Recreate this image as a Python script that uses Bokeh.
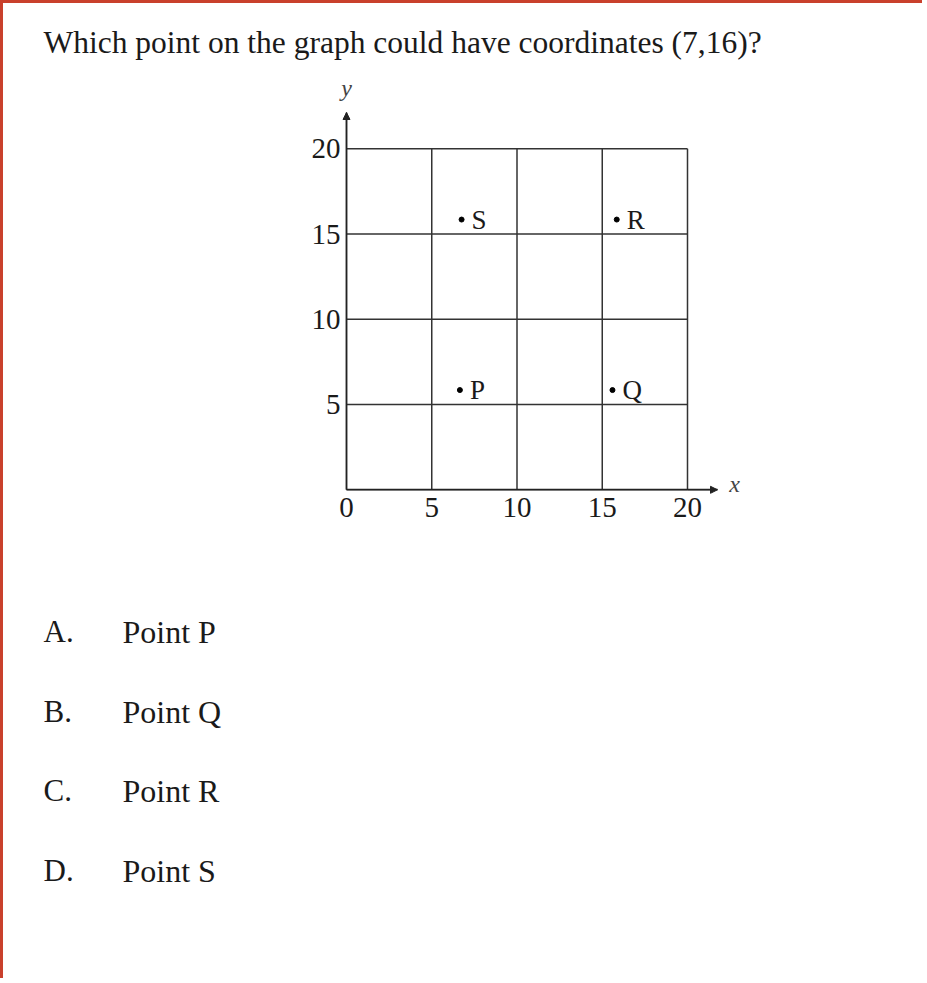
from bokeh.plotting import figure
from bokeh.models import Range1d, FixedTicker, Label, Arrow, NormalHead
from bokeh.core.properties import value
from bokeh.embed import file_html
from bokeh.resources import INLINE

# ---- data ----
question = "Which point on the graph could have coordinates (7,16)?"
answer_letters = ["A.", "B.", "C.", "D."]
answer_texts = ["Point P", "Point Q", "Point R", "Point S"]
point_names = ["S", "R", "P", "Q"]
point_x = [6.75, 15.85, 6.65, 15.6]
point_y = [15.85, 15.85, 5.85, 5.85]
x_ticks = [0, 5, 10, 15, 20]
y_ticks = [5, 10, 15, 20]
grid_lines = [0, 5, 10, 15, 20]

# ---- layout constants (page pixels) ----
FONT = "Liberation Serif"
K = 341.0 / 20.0                   # pixels per data unit
ORIGIN_X, ORIGIN_Y = 346.0, 489.3  # page pixel of data (0,0)
CX0, CY0 = 3, 3                    # canvas top-left on the page (after border)
W, H = 922, 978
TEXT_COLOR = "#1a1a1a"


def dx(px):
    return (px - ORIGIN_X) / K


def dy(py):
    return (ORIGIN_Y - py) / K


p = figure(width=W, height=H,
           x_range=Range1d(dx(CX0), dx(CX0 + W)),
           y_range=Range1d(dy(CY0 + H), dy(CY0)),
           min_border=0, min_border_left=0, min_border_right=0,
           min_border_top=0, min_border_bottom=0,
           output_backend="svg", toolbar_location=None,
           background_fill_color="white", border_fill_color="white",
           styles={"border-top": "3px solid #c9402c",
                   "border-left": "3px solid #c9402c"})
p.outline_line_color = None
p.grid.visible = False

# grid box
g0, g1 = grid_lines[0], grid_lines[-1]
n = len(grid_lines)
p.segment(x0=grid_lines, x1=grid_lines, y0=[g0] * n, y1=[g1] * n,
          line_color="#333333", line_width=1.5)
p.segment(x0=[g0] * n, x1=[g1] * n, y0=grid_lines, y1=grid_lines,
          line_color="#333333", line_width=1.5)

x_tip = dx(717)
y_tip = dy(112)

# axes through the origin
for ax, ticks, standoff, bnds in ((p.xaxis[0], x_ticks, 8, (0, x_tip)),
                                  (p.yaxis[0], y_ticks, 6, (0, y_tip))):
    ax.fixed_location = 0
    ax.bounds = bnds
    ax.ticker = FixedTicker(ticks=ticks)
    ax.major_tick_out = 0
    ax.major_tick_in = 0
    ax.minor_tick_out = 0
    ax.minor_tick_in = 0
    ax.axis_line_color = "#222222"
    ax.axis_line_width = 1.5
    ax.major_label_text_font = FONT
    ax.major_label_text_font_size = "29px"
    ax.major_label_text_color = TEXT_COLOR
    ax.major_label_standoff = standoff
p.yaxis[0].major_label_orientation = "horizontal"

# arrow heads on the axes
p.add_layout(Arrow(end=NormalHead(size=7, fill_color="#222222", line_color="#222222"),
                   x_start=0, y_start=g1, x_end=0, y_end=y_tip,
                   line_color="#222222", line_width=1.5))
p.add_layout(Arrow(end=NormalHead(size=7, fill_color="#222222", line_color="#222222"),
                   x_start=g1, y_start=0, x_end=x_tip, y_end=0,
                   line_color="#222222", line_width=1.5))

# axis letters
p.add_layout(Label(x=0, y=dy(87), text="y", text_font=FONT, text_font_style="italic",
                   text_font_size="24px", text_align="center", text_baseline="middle",
                   text_color="#444444"))
p.add_layout(Label(x=dx(734), y=dy(483), text="x", text_font=FONT, text_font_style="italic",
                   text_font_size="24px", text_align="center", text_baseline="middle",
                   text_color="#444444"))

# points
p.scatter(x=point_x, y=point_y, size=5, color="black")
p.text(x=point_x, y=point_y, text=point_names, x_offset=10, y_offset=0,
       text_baseline="middle", text_align="left",
       text_font=value(FONT), text_font_size="27px", text_color=TEXT_COLOR)

# question
p.add_layout(Label(x=dx(43), y=dy(42), text=question, text_font=FONT,
                   text_font_size="31.5px", text_align="left", text_baseline="alphabetic",
                   text_color=TEXT_COLOR))

# answers
baselines = [631, 711, 790, 870]
for letter, txt, b in zip(answer_letters, answer_texts, baselines):
    p.add_layout(Label(x=dx(43), y=dy(b), text=letter, text_font=FONT,
                       text_font_size="31px", text_align="left", text_baseline="alphabetic",
                       text_color=TEXT_COLOR))
    p.add_layout(Label(x=dx(122), y=dy(b), text=txt, text_font=FONT,
                       text_font_size="32px", text_align="left", text_baseline="alphabetic",
                       text_color=TEXT_COLOR))

open("out.html", "w").write(file_html(p, INLINE))
